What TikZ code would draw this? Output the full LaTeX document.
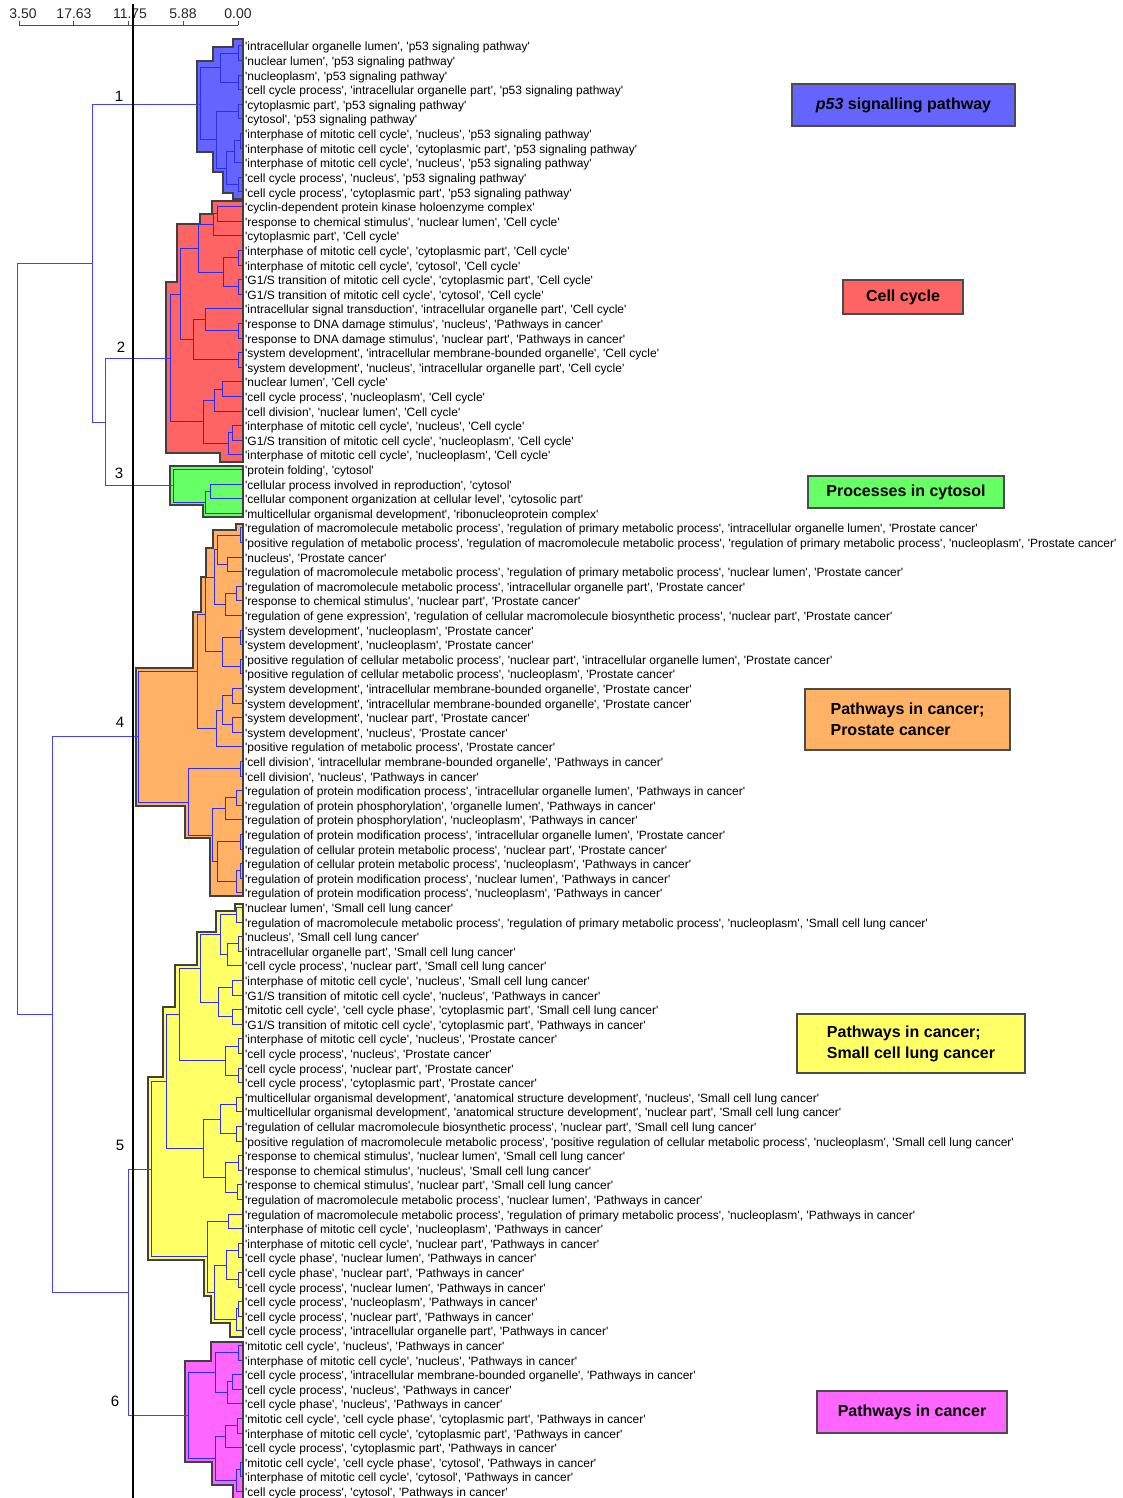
\documentclass[tikz,border=0pt]{standalone}
\usepackage{fontspec}
\setmainfont{Liberation Sans}
\newfontfamily\lblfont{Liberation Sans}[Ligatures=ResetAll]
\usetikzlibrary{calc}

\definecolor{cblue}{RGB}{100,100,255}
\definecolor{cred}{RGB}{255,100,100}
\definecolor{cgreen}{RGB}{102,255,102}
\definecolor{corange}{RGB}{255,178,102}
\definecolor{cyellow}{RGB}{255,255,102}
\definecolor{cpink}{RGB}{255,102,255}
\definecolor{brblue}{RGB}{45,45,235}

% one merge of the tree: [style]{name}{x}{upper child}{lower child}
\newcommand\mrg[5][branch]{%
  \draw[#1] (#4) -| (#3,0 |- #5) -- (#5);
  \coordinate (#2) at ($(#3,0 |- #4)!0.5!(#3,0 |- #5)$);}

\begin{document}
\begin{tikzpicture}[x=1pt,y=-1pt]
    \tikzstyle{branch}=[draw=brblue,line width=1pt]
    \tikzstyle{link}=[draw=blue!75,line width=0.8pt]
    \tikzstyle{blob}=[draw=black!75,line width=1.6pt,line join=miter]
    \tikzstyle{leaf}=[anchor=west,inner sep=0pt,text height=8pt,text depth=2pt,font=\lblfont\fontsize{12}{13}\selectfont]
    \tikzstyle{tag}=[draw=black!70,line width=1.2pt,inner sep=0pt,align=left,font=\bfseries\fontsize{16}{21}\selectfont]
    \tikzstyle{cnum}=[inner sep=0pt,font=\fontsize{15}{15}\selectfont]
    \tikzstyle{ticklbl}=[inner sep=0pt,font=\fontsize{14}{14}\selectfont,text=black!85]
    \useasboundingbox (0,0) rectangle (1122,1498);

    % scale
    \draw[black!70,line width=0.8pt] (19,25) -- (238,25);
    \foreach \x in {19,73,128,183,238}
        \draw[black!70,line width=0.8pt] (\x,25) -- (\x,21);
    \foreach \x/\v [count=\i] in {23/3.50, 74/17.63, 130/11.75, 183/5.88, 238/0.00}
        \node[ticklbl] (ax-\i) at (\x,14) {\v};

    % clusters
    \draw[blob,fill=cblue] (243,39) -- (233,39) -- (233,47) -- (213,47) -- (213,61) -- (197,61)
        -- (197,152) -- (213,152) -- (213,172) -- (223,172) -- (223,193) -- (233,193) -- (233,199) -- (243,199) -- cycle;
    \draw[blob,fill=cred] (243,201) -- (212,201) -- (212,214) -- (200,214) -- (200,224) -- (177,224)
        -- (177,282) -- (166,282) -- (166,453) -- (220,453) -- (220,462) -- (243,462) -- cycle;
    \draw[blob,fill=cgreen] (243,466) -- (170,466) -- (170,505) -- (203,505) -- (203,517) -- (243,517) -- cycle;
    \draw[blob,fill=corange] (243,524) -- (236,524) -- (236,530) -- (213,530) -- (213,548) -- (206,548)
        -- (206,577) -- (201,577) -- (201,612) -- (193,612) -- (193,668) -- (136,668) -- (136,806)
        -- (185,806) -- (185,838) -- (210,838) -- (210,896) -- (243,896) -- cycle;
    \draw[blob,fill=cyellow] (243,904) -- (235,904) -- (235,911) -- (216,911) -- (216,932) -- (197,932)
        -- (197,965) -- (175,965) -- (175,1007) -- (163,1007) -- (163,1077) -- (148,1077) -- (148,1260)
        -- (204,1260) -- (204,1296) -- (211,1296) -- (211,1323) -- (230,1323) -- (230,1337) -- (243,1337) -- cycle;
    \draw[blob,fill=cpink] (243,1342) -- (211,1342) -- (211,1361) -- (185,1361) -- (185,1462) -- (212,1462)
        -- (212,1485) -- (233,1485) -- (233,1502) -- (243,1502) -- cycle;

    % leaves
    \foreach \t [count=\n] in {
        {'intracellular organelle lumen', 'p53 signaling pathway'},
        {'nuclear lumen', 'p53 signaling pathway'},
        {'nucleoplasm', 'p53 signaling pathway'},
        {'cell cycle process', 'intracellular organelle part', 'p53 signaling pathway'},
        {'cytoplasmic part', 'p53 signaling pathway'},
        {'cytosol', 'p53 signaling pathway'},
        {'interphase of mitotic cell cycle', 'nucleus', 'p53 signaling pathway'},
        {'interphase of mitotic cell cycle', 'cytoplasmic part', 'p53 signaling pathway'},
        {'interphase of mitotic cell cycle', 'nucleus', 'p53 signaling pathway'},
        {'cell cycle process', 'nucleus', 'p53 signaling pathway'},
        {'cell cycle process', 'cytoplasmic part', 'p53 signaling pathway'},
        {'cyclin-dependent protein kinase holoenzyme complex'},
        {'response to chemical stimulus', 'nuclear lumen', 'Cell cycle'},
        {'cytoplasmic part', 'Cell cycle'},
        {'interphase of mitotic cell cycle', 'cytoplasmic part', 'Cell cycle'},
        {'interphase of mitotic cell cycle', 'cytosol', 'Cell cycle'},
        {'G1/S transition of mitotic cell cycle', 'cytoplasmic part', 'Cell cycle'},
        {'G1/S transition of mitotic cell cycle', 'cytosol', 'Cell cycle'},
        {'intracellular signal transduction', 'intracellular organelle part', 'Cell cycle'},
        {'response to DNA damage stimulus', 'nucleus', 'Pathways in cancer'},
        {'response to DNA damage stimulus', 'nuclear part', 'Pathways in cancer'},
        {'system development', 'intracellular membrane-bounded organelle', 'Cell cycle'},
        {'system development', 'nucleus', 'intracellular organelle part', 'Cell cycle'},
        {'nuclear lumen', 'Cell cycle'},
        {'cell cycle process', 'nucleoplasm', 'Cell cycle'},
        {'cell division', 'nuclear lumen', 'Cell cycle'},
        {'interphase of mitotic cell cycle', 'nucleus', 'Cell cycle'},
        {'G1/S transition of mitotic cell cycle', 'nucleoplasm', 'Cell cycle'},
        {'interphase of mitotic cell cycle', 'nucleoplasm', 'Cell cycle'},
        {'protein folding', 'cytosol'},
        {'cellular process involved in reproduction', 'cytosol'},
        {'cellular component organization at cellular level', 'cytosolic part'},
        {'multicellular organismal development', 'ribonucleoprotein complex'},
        {'regulation of macromolecule metabolic process', 'regulation of primary metabolic process', 'intracellular organelle lumen', 'Prostate cancer'},
        {'positive regulation of metabolic process', 'regulation of macromolecule metabolic process', 'regulation of primary metabolic process', 'nucleoplasm', 'Prostate cancer'},
        {'nucleus', 'Prostate cancer'},
        {'regulation of macromolecule metabolic process', 'regulation of primary metabolic process', 'nuclear lumen', 'Prostate cancer'},
        {'regulation of macromolecule metabolic process', 'intracellular organelle part', 'Prostate cancer'},
        {'response to chemical stimulus', 'nuclear part', 'Prostate cancer'},
        {'regulation of gene expression', 'regulation of cellular macromolecule biosynthetic process', 'nuclear part', 'Prostate cancer'},
        {'system development', 'nucleoplasm', 'Prostate cancer'},
        {'system development', 'nucleoplasm', 'Prostate cancer'},
        {'positive regulation of cellular metabolic process', 'nuclear part', 'intracellular organelle lumen', 'Prostate cancer'},
        {'positive regulation of cellular metabolic process', 'nucleoplasm', 'Prostate cancer'},
        {'system development', 'intracellular membrane-bounded organelle', 'Prostate cancer'},
        {'system development', 'intracellular membrane-bounded organelle', 'Prostate cancer'},
        {'system development', 'nuclear part', 'Prostate cancer'},
        {'system development', 'nucleus', 'Prostate cancer'},
        {'positive regulation of metabolic process', 'Prostate cancer'},
        {'cell division', 'intracellular membrane-bounded organelle', 'Pathways in cancer'},
        {'cell division', 'nucleus', 'Pathways in cancer'},
        {'regulation of protein modification process', 'intracellular organelle lumen', 'Pathways in cancer'},
        {'regulation of protein phosphorylation', 'organelle lumen', 'Pathways in cancer'},
        {'regulation of protein phosphorylation', 'nucleoplasm', 'Pathways in cancer'},
        {'regulation of protein modification process', 'intracellular organelle lumen', 'Prostate cancer'},
        {'regulation of cellular protein metabolic process', 'nuclear part', 'Prostate cancer'},
        {'regulation of cellular protein metabolic process', 'nucleoplasm', 'Pathways in cancer'},
        {'regulation of protein modification process', 'nuclear lumen', 'Pathways in cancer'},
        {'regulation of protein modification process', 'nucleoplasm', 'Pathways in cancer'},
        {'nuclear lumen', 'Small cell lung cancer'},
        {'regulation of macromolecule metabolic process', 'regulation of primary metabolic process', 'nucleoplasm', 'Small cell lung cancer'},
        {'nucleus', 'Small cell lung cancer'},
        {'intracellular organelle part', 'Small cell lung cancer'},
        {'cell cycle process', 'nuclear part', 'Small cell lung cancer'},
        {'interphase of mitotic cell cycle', 'nucleus', 'Small cell lung cancer'},
        {'G1/S transition of mitotic cell cycle', 'nucleus', 'Pathways in cancer'},
        {'mitotic cell cycle', 'cell cycle phase', 'cytoplasmic part', 'Small cell lung cancer'},
        {'G1/S transition of mitotic cell cycle', 'cytoplasmic part', 'Pathways in cancer'},
        {'interphase of mitotic cell cycle', 'nucleus', 'Prostate cancer'},
        {'cell cycle process', 'nucleus', 'Prostate cancer'},
        {'cell cycle process', 'nuclear part', 'Prostate cancer'},
        {'cell cycle process', 'cytoplasmic part', 'Prostate cancer'},
        {'multicellular organismal development', 'anatomical structure development', 'nucleus', 'Small cell lung cancer'},
        {'multicellular organismal development', 'anatomical structure development', 'nuclear part', 'Small cell lung cancer'},
        {'regulation of cellular macromolecule biosynthetic process', 'nuclear part', 'Small cell lung cancer'},
        {'positive regulation of macromolecule metabolic process', 'positive regulation of cellular metabolic process', 'nucleoplasm', 'Small cell lung cancer'},
        {'response to chemical stimulus', 'nuclear lumen', 'Small cell lung cancer'},
        {'response to chemical stimulus', 'nucleus', 'Small cell lung cancer'},
        {'response to chemical stimulus', 'nuclear part', 'Small cell lung cancer'},
        {'regulation of macromolecule metabolic process', 'nuclear lumen', 'Pathways in cancer'},
        {'regulation of macromolecule metabolic process', 'regulation of primary metabolic process', 'nucleoplasm', 'Pathways in cancer'},
        {'interphase of mitotic cell cycle', 'nucleoplasm', 'Pathways in cancer'},
        {'interphase of mitotic cell cycle', 'nuclear part', 'Pathways in cancer'},
        {'cell cycle phase', 'nuclear lumen', 'Pathways in cancer'},
        {'cell cycle phase', 'nuclear part', 'Pathways in cancer'},
        {'cell cycle process', 'nuclear lumen', 'Pathways in cancer'},
        {'cell cycle process', 'nucleoplasm', 'Pathways in cancer'},
        {'cell cycle process', 'nuclear part', 'Pathways in cancer'},
        {'cell cycle process', 'intracellular organelle part', 'Pathways in cancer'},
        {'mitotic cell cycle', 'nucleus', 'Pathways in cancer'},
        {'interphase of mitotic cell cycle', 'nucleus', 'Pathways in cancer'},
        {'cell cycle process', 'intracellular membrane-bounded organelle', 'Pathways in cancer'},
        {'cell cycle process', 'nucleus', 'Pathways in cancer'},
        {'cell cycle phase', 'nucleus', 'Pathways in cancer'},
        {'mitotic cell cycle', 'cell cycle phase', 'cytoplasmic part', 'Pathways in cancer'},
        {'interphase of mitotic cell cycle', 'cytoplasmic part', 'Pathways in cancer'},
        {'cell cycle process', 'cytoplasmic part', 'Pathways in cancer'},
        {'mitotic cell cycle', 'cell cycle phase', 'cytosol', 'Pathways in cancer'},
        {'interphase of mitotic cell cycle', 'cytosol', 'Pathways in cancer'},
        {'cell cycle process', 'cytosol', 'Pathways in cancer'}}
    {
        \coordinate (lf\n) at (242,{46+14.6*(\n-1)});
        \node[leaf] (L\n) at (245,{48+14.6*(\n-1)}) {\t};
    }

    % cluster 1
    \mrg{a1}{238}{lf1}{lf2}
    \mrg{a2}{238}{lf3}{lf4}
    \mrg{a3}{220}{a1}{a2}
    \mrg{a4}{238}{lf5}{lf6}
    \mrg{a5}{240}{lf7}{lf8}
    \mrg{a6}{234}{a5}{lf9}
    \mrg{a7}{238}{lf10}{lf11}
    \mrg{a8}{226}{a6}{a7}
    \mrg{a9}{216}{a4}{a8}
    \mrg{r1}{200}{a3}{a9}
    % cluster 2
    \mrg{b1}{217}{lf12}{lf13}
    \mrg{b2}{213}{b1}{lf14}
    \mrg{b3}{238}{lf15}{lf16}
    \mrg{b4}{238}{lf17}{lf18}
    \mrg{b5}{223}{b3}{b4}
    \mrg{b6}{198}{b2}{b5}
    \mrg{b7}{238}{lf20}{lf21}
    \mrg{b8}{205}{lf19}{b7}
    \mrg{b9}{238}{lf22}{lf23}
    \mrg{b10}{193}{b8}{b9}
    \mrg{b11}{180}{b6}{b10}
    \mrg{b12}{222}{lf24}{lf25}
    \mrg{b13}{214}{b12}{lf26}
    \mrg{b14}{232}{lf27}{lf28}
    \mrg{b15}{228}{b14}{lf29}
    \mrg{b16}{203}{b13}{b15}
    \mrg{r2}{170}{b11}{b16}
    % cluster 3
    \mrg{c1}{210}{lf31}{lf32}
    \mrg{c2}{205}{c1}{lf33}
    \mrg{r3}{173}{lf30}{c2}
    % cluster 4
    \mrg{d1}{240}{lf34}{lf35}
    \mrg{d2}{227}{lf36}{lf37}
    \mrg{d3}{217}{d1}{d2}
    \mrg{d4}{236}{lf38}{lf39}
    \mrg{d5}{225}{d4}{lf40}
    \mrg{d6}{214}{d3}{d5}
    \mrg{d7}{240}{lf41}{lf42}
    \mrg{d8}{240}{lf43}{lf44}
    \mrg{d9}{222}{d7}{d8}
    \mrg{d10}{205}{d6}{d9}
    \mrg{d11}{232}{lf45}{lf46}
    \mrg{d12}{232}{lf47}{lf48}
    \mrg{d13}{222}{d11}{d12}
    \mrg{d14}{216}{d13}{lf49}
    \mrg{d15}{197}{d10}{d14}
    \mrg{d16}{240}{lf50}{lf51}
    \mrg{d17}{236}{lf52}{lf53}
    \mrg{d18}{225}{d17}{lf54}
    \mrg{d19}{240}{lf55}{lf56}
    \mrg{d20}{240}{lf57}{lf58}
    \mrg{d21}{236}{d20}{lf59}
    \mrg{d22}{217}{d19}{d21}
    \mrg{d23}{212}{d18}{d22}
    \mrg{d24}{188}{d16}{d23}
    \mrg{r4}{138}{d15}{d24}
    % cluster 5
    \mrg{e1}{236}{lf60}{lf61}
    \mrg{e2}{238}{lf62}{lf63}
    \mrg{e3}{227}{e2}{lf64}
    \mrg{e4}{220}{e1}{e3}
    \mrg{e5}{232}{lf65}{lf66}
    \mrg{e6}{232}{lf67}{lf68}
    \mrg{e7}{218}{e5}{e6}
    \mrg{e8}{200}{e4}{e7}
    \mrg{e9}{238}{lf69}{lf70}
    \mrg{e10}{238}{lf71}{lf72}
    \mrg{e11}{225}{e9}{e10}
    \mrg{e12}{179}{e8}{e11}
    \mrg{e13}{236}{lf73}{lf74}
    \mrg{e14}{236}{lf75}{lf76}
    \mrg{e15}{220}{e13}{e14}
    \mrg{e16}{238}{lf77}{lf78}
    \mrg{e17}{237}{lf79}{lf80}
    \mrg{e18}{225}{e16}{e17}
    \mrg{e19}{203}{e15}{e18}
    \mrg{e20}{166}{e12}{e19}
    \mrg{e21}{228}{lf81}{lf82}
    \mrg{e22}{238}{lf83}{lf84}
    \mrg{e23}{238}{lf85}{lf86}
    \mrg{e24}{226}{e22}{e23}
    \mrg{e25}{238}{lf87}{lf88}
    \mrg{e26}{236}{e25}{lf89}
    \mrg{e27}{214}{e24}{e26}
    \mrg{e28}{207}{e21}{e27}
    \mrg{r5}{151}{e20}{e28}
    % cluster 6
    \mrg{f1}{238}{lf90}{lf91}
    \mrg{f2}{232}{lf92}{lf93}
    \mrg{f3}{227}{f2}{lf94}
    \mrg{f4}{215}{f1}{f3}
    \mrg{f5}{237}{lf95}{lf96}
    \mrg{f6}{225}{f5}{lf97}
    \mrg{f7}{240}{lf98}{lf99}
    \mrg{f8}{236}{f7}{lf100}
    \mrg{f9}{215}{f6}{f8}
    \mrg{r6}{188}{f4}{f9}

    % top of the tree
    \mrg[link]{j23}{105}{r2}{r3}
    \mrg[link]{j123}{92}{r1}{j23}
    \mrg[link]{j56}{128}{r5}{r6}
    \mrg[link]{j456}{52}{r4}{j56}
    \mrg[link]{j0}{17}{j123}{j456}

    % cut
    \draw[line width=2pt] (133,4) -- (133,1498);
    \foreach \num/\x/\y in {1/119/96, 2/121/347, 3/119/473, 4/120/722, 5/120/1145, 6/115/1401}
        \node[cnum] (N-\num) at (\x,\y) {\num};

    % tags
    \node[tag,fill=cblue,minimum width=223pt,minimum height=42pt] (T-1) at (903.5,105) {\textit{p53} signalling pathway};
    \node[tag,fill=cred,minimum width=120pt,minimum height=34pt] (T-2) at (903,297) {Cell cycle};
    \node[tag,fill=cgreen,minimum width=196pt,minimum height=32pt] (T-3) at (906,492) {Processes in cytosol};
    \node[tag,fill=corange,minimum width=205pt,minimum height=61pt] (T-4) at (907.5,719.5) {Pathways in cancer;\\Prostate cancer};
    \node[tag,fill=cyellow,minimum width=228pt,minimum height=59pt] (T-5) at (911,1043.5) {Pathways in cancer;\\Small cell lung cancer};
    \node[tag,fill=cpink,minimum width=190pt,minimum height=42pt] (T-6) at (912,1412) {Pathways in cancer};
\end{tikzpicture}
\end{document}
